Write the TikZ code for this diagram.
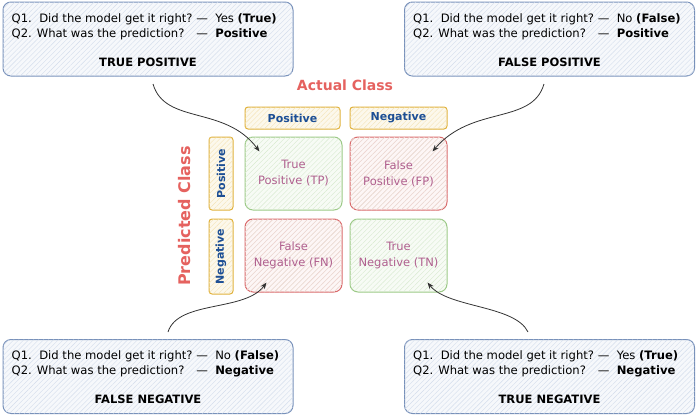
\documentclass[tikz,border=0pt]{standalone}
\usepackage{fontspec}
\setmainfont{DejaVu Sans}
\usetikzlibrary{arrows.meta,patterns.meta,positioning}

\definecolor{qline}{HTML}{7891BA}
\definecolor{qfill}{HTML}{D3DDEC}
\definecolor{hline}{HTML}{E0B13A}
\definecolor{hfill}{HTML}{F4E3B4}
\definecolor{okline}{HTML}{9BC986}
\definecolor{okfill}{HTML}{D8EACF}
\definecolor{badline}{HTML}{D9686A}
\definecolor{badfill}{HTML}{F4D0D2}
\definecolor{celltext}{HTML}{B0608F}
\definecolor{headtext}{HTML}{1C4E94}
\definecolor{classred}{HTML}{E5625F}

\begin{document}
\begin{tikzpicture}[
    x=1pt, y=-1pt,
    >=Stealth,
    hatch/.style={postaction={pattern={Lines[angle=45,distance=3.5pt,line width=0.4pt]}, pattern color=#1}},
    qbox/.style={draw=qline, line width=1pt, rounded corners=8pt,
        fill=qfill!20, hatch=qfill,
        minimum width=290pt, minimum height=74pt, inner sep=0pt},
    headbox/.style={draw=hline, line width=1pt, rounded corners=3pt,
        fill=hfill!25, hatch=hfill,
        font=\bfseries\fontsize{11}{12}\selectfont, text=headtext, inner sep=0pt},
    okcell/.style={draw=okline, line width=1pt, rounded corners=8pt,
        fill=okfill!20, hatch=okfill,
        minimum width=97pt, minimum height=73pt, inner sep=0pt,
        align=center, text=celltext, font=\fontsize{11.5}{16}\selectfont},
    badcell/.style={okcell, draw=badline, fill=badfill!20, hatch=badfill},
    qtext/.style={anchor=north west, inner sep=0pt, font=\fontsize{11.6}{15}\selectfont},
    qtitle/.style={font=\bfseries\fontsize{11.5}{14}\selectfont},
    classlabel/.style={text=classred, font=\bfseries\fontsize{14}{16}\selectfont},
    arr/.style={->, line width=0.8pt, draw=black!80}
]
    \useasboundingbox (0,0) rectangle (699,418);

    % Question boxes
    \node[qbox] (tpq) at (148,39) {};
    \node[qbox] (fpq) at (549.5,39) {};
    \node[qbox] (fnq) at (148,376.5) {};
    \node[qbox] (tnq) at (549.5,376.5) {};

    \node[qtext] (tpq1) at ([shift={(9,10)}]tpq.north west)
        {\begin{tabular}{@{}l@{\ }l@{}}
         Q1.\ \ Did the model get it right? & — \ Yes \textbf{(True)}\\
         Q2. What was the prediction? & — \ \textbf{Positive}
         \end{tabular}};
    \node[qtitle] (tpt) at ([yshift=-23]tpq.center) {TRUE POSITIVE};

    \node[qtext] (fpq1) at ([shift={(9,10)}]fpq.north west)
        {\begin{tabular}{@{}l@{\ }l@{}}
         Q1.\ \ Did the model get it right? & — \ No \textbf{(False)}\\
         Q2. What was the prediction? & — \ \textbf{Positive}
         \end{tabular}};
    \node[qtitle] (fpt) at ([yshift=-23]fpq.center) {FALSE POSITIVE};

    \node[qtext] (fnq1) at ([shift={(9,10)}]fnq.north west)
        {\begin{tabular}{@{}l@{\ }l@{}}
         Q1.\ \ Did the model get it right? & — \ No \textbf{(False)}\\
         Q2. What was the prediction? & — \ \textbf{Negative}
         \end{tabular}};
    \node[qtitle] (fnt) at ([yshift=-23]fnq.center) {FALSE NEGATIVE};

    \node[qtext] (tnq1) at ([shift={(9,10)}]tnq.north west)
        {\begin{tabular}{@{}l@{\ }l@{}}
         Q1.\ \ Did the model get it right? & — \ Yes \textbf{(True)}\\
         Q2. What was the prediction? & — \ \textbf{Negative}
         \end{tabular}};
    \node[qtitle] (tnt) at ([yshift=-23]tnq.center) {TRUE NEGATIVE};

    % Class labels
    \node[classlabel] (actual) at (345,85) {Actual Class};
    \node[classlabel, rotate=90, font=\bfseries\fontsize{16}{18}\selectfont] (predicted) at (185,216) {Predicted Class};

    % Header boxes
    \node[headbox, minimum width=95pt, minimum height=22pt] (hpos) at (292.5,118) {Positive};
    \node[headbox, minimum width=97pt, minimum height=22pt] (hneg) at (398.5,118) {Negative};
    \node[headbox, minimum width=73pt, minimum height=24pt, rotate=90] (vpos) at (221,173.5) {Positive};
    \node[headbox, minimum width=75pt, minimum height=24pt, rotate=90] (vneg) at (221,256.5) {Negative};

    % Matrix cells
    \node[okcell] (tp) at (293.5,173.5) {True\\Positive (TP)};
    \node[badcell] (fp) at (398.5,173.5) {False\\Positive (FP)};
    \node[badcell] (fn) at (293.5,255.5) {False\\Negative (FN)};
    \node[okcell] (tn) at (398.5,255.5) {True\\Negative (TN)};

    % Arrows
    \coordinate (tpfrom) at (153,84);
    \coordinate (fpfrom) at (544,84);
    \coordinate (fnfrom) at (168,332);
    \coordinate (tnfrom) at (528,332);
    \coordinate (tpto) at ([shift={(15,15)}]tp.north west);
    \coordinate (fpto) at ([shift={(-15,15)}]fp.north east);
    \coordinate (fnto) at ([shift={(22,-10)}]fn.south west);
    \coordinate (tnto) at ([shift={(-20,-10)}]tn.south east);

    \draw[arr] (tpfrom) .. controls (165,125) and (225,105) .. (tpto);
    \draw[arr] (fpfrom) .. controls (532,125) and (472,105) .. (fpto);
    \draw[arr] (fnfrom) .. controls (178,300) and (245,312) .. (fnto);
    \draw[arr] (tnfrom) .. controls (515,305) and (448,308) .. (tnto);
\end{tikzpicture}
\end{document}
